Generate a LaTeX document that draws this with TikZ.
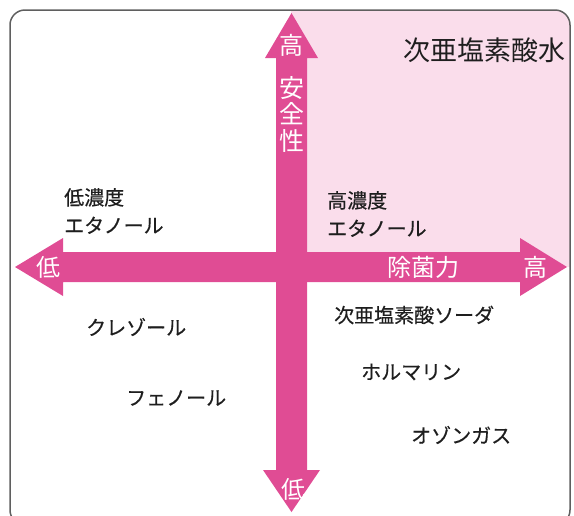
\documentclass[tikz,border=0pt]{standalone}
\usepackage{fontspec}
\newfontfamily\jp{Noto Sans CJK JP}
\newfontfamily\jpb[FakeBold=0.4]{Noto Sans CJK JP}
\definecolor{arrowpink}{RGB}{224,76,148}
\definecolor{lightpink}{RGB}{250,221,235}
\definecolor{framegray}{RGB}{95,95,95}
\definecolor{txt}{RGB}{30,30,30}
\begin{document}
\begin{tikzpicture}[x=1pt,y=-1pt,
  lbl/.style={font=\jpb\fontsize{20}{28}\selectfont, inner sep=0pt, text=txt, align=left},
  wlbl/.style={font=\jp\fontsize{24}{26}\selectfont, inner sep=0pt, text=white},
  titlelbl/.style={font=\jp\fontsize{27}{28}\selectfont, inner sep=0pt, text=txt},
]
\useasboundingbox (0,0) rectangle (574,515);
\begin{scope}
  \clip[rounded corners=15] (10,10) rectangle (570,525);
  \fill[lightpink] (291,0) rectangle (574,267);
\end{scope}
\draw[framegray, line width=1.5, rounded corners=15] (10,10) rectangle (570,525);
% vertical arrow (safety)
\fill[arrowpink] (291.5,13) -- (318,58) -- (307,58) -- (307,470) -- (320,470) -- (291.5,512)
  -- (263,470) -- (276,470) -- (276,58) -- (265,58) -- cycle;
% horizontal arrow (germicidal power)
\fill[arrowpink] (15,267) -- (63,238) -- (63,252) -- (520,252) -- (520,238) -- (567,267)
  -- (520,296) -- (520,282) -- (63,282) -- (63,296) -- cycle;
% arrow labels
\node[wlbl] (vhigh) at (291.5,45) {高};
\node[wlbl, font=\jp\fontsize{25}{26.5}\selectfont, align=center] (safety) at (291.5,114) {安\\全\\性};
\node[wlbl] (vlow) at (293,489) {低};
\node[wlbl] (hlow) at (48,267) {低};
\node[wlbl] (germ) at (423,267) {除菌力};
\node[wlbl] (hhigh) at (535,267) {高};
% title
\node[titlelbl] (title) at (484,50) {次亜塩素酸水};
% items
\node[lbl, anchor=west] (lowetoh) at (64,211) {低濃度\\エタノール};
\node[lbl, anchor=west] (highetoh) at (327,214) {高濃度\\エタノール};
\node[lbl, anchor=west] (soda) at (334,315) {次亜塩素酸ソーダ};
\node[lbl, anchor=west] (formalin) at (361,372) {ホルマリン};
\node[lbl, anchor=west] (ozone) at (411,435) {オゾンガス};
\node[lbl, anchor=west] (cresol) at (86,327) {クレゾール};
\node[lbl, anchor=west] (phenol) at (126,398) {フェノール};
\end{tikzpicture}
\end{document}
